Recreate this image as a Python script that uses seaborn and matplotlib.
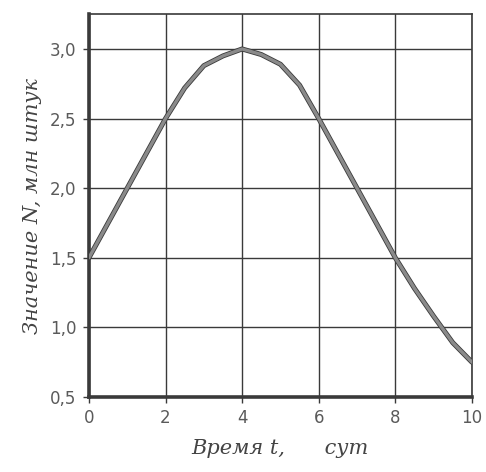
import matplotlib
matplotlib.use("Agg")
import matplotlib.pyplot as plt
import matplotlib.patheffects as pe
import seaborn as sns
import pandas as pd

t_values = [0, 0.5, 1, 1.5, 2, 2.5, 3, 3.5, 4, 4.5, 5, 5.5, 6, 6.5, 7, 7.5, 8, 8.5, 9, 9.5, 10]
n_values = [1.5, 1.75, 2.0, 2.25, 2.5, 2.72, 2.88, 2.95, 3.0, 2.96, 2.89, 2.74, 2.5,
            2.25, 2.0, 1.75, 1.5, 1.28, 1.08, 0.89, 0.75]
x_ticks = [0, 2, 4, 6, 8, 10]
y_ticks = [0.5, 1.0, 1.5, 2.0, 2.5, 3.0]
y_tick_labels = ["0,5", "1,0", "1,5", "2,0", "2,5", "3,0"]

sns.set_theme(style="white")
plt.rcParams['font.family'] = ['DejaVu Sans']

df = pd.DataFrame({"t": t_values, "N": n_values})

fig = plt.figure(figsize=(4.86, 4.72), dpi=100)
ax = fig.add_axes([0.183, 0.159, 0.788, 0.811])

sns.lineplot(data=df, x="t", y="N", ax=ax, color="#8a8a8a", lw=2.4,
             path_effects=[pe.Stroke(linewidth=3.6, foreground="#3a3a3a"), pe.Normal()],
             zorder=3)

ax.set_xlim(0, 10)
ax.set_ylim(0.5, 3.25)
ax.set_xticks(x_ticks)
ax.set_xticklabels([str(v) for v in x_ticks])
ax.set_yticks(y_ticks)
ax.set_yticklabels(y_tick_labels)

ax.grid(True, color="#3a3a3a", lw=1.0, zorder=1)
ax.set_axisbelow(True)
for s in ax.spines.values():
    s.set_visible(True)
    s.set_color("#3a3a3a")
    s.set_linewidth(1.2)
ax.spines['left'].set_linewidth(2.6)
ax.spines['bottom'].set_linewidth(2.6)

ax.tick_params(axis='both', which='major', direction='out', length=4, width=1,
               color="#3a3a3a", labelsize=12, labelcolor="#5a5a5a", pad=5, bottom=True, left=True)

ax.set_xlabel("Время t,      сут", fontsize=15, fontstyle='italic', family='DejaVu Serif',
              color="#444444", labelpad=8)
ax.set_ylabel("Значение N, млн штук", fontsize=15, fontstyle='italic', family='DejaVu Serif',
              color="#444444", labelpad=6)

fig.savefig("out.png", dpi=100)
